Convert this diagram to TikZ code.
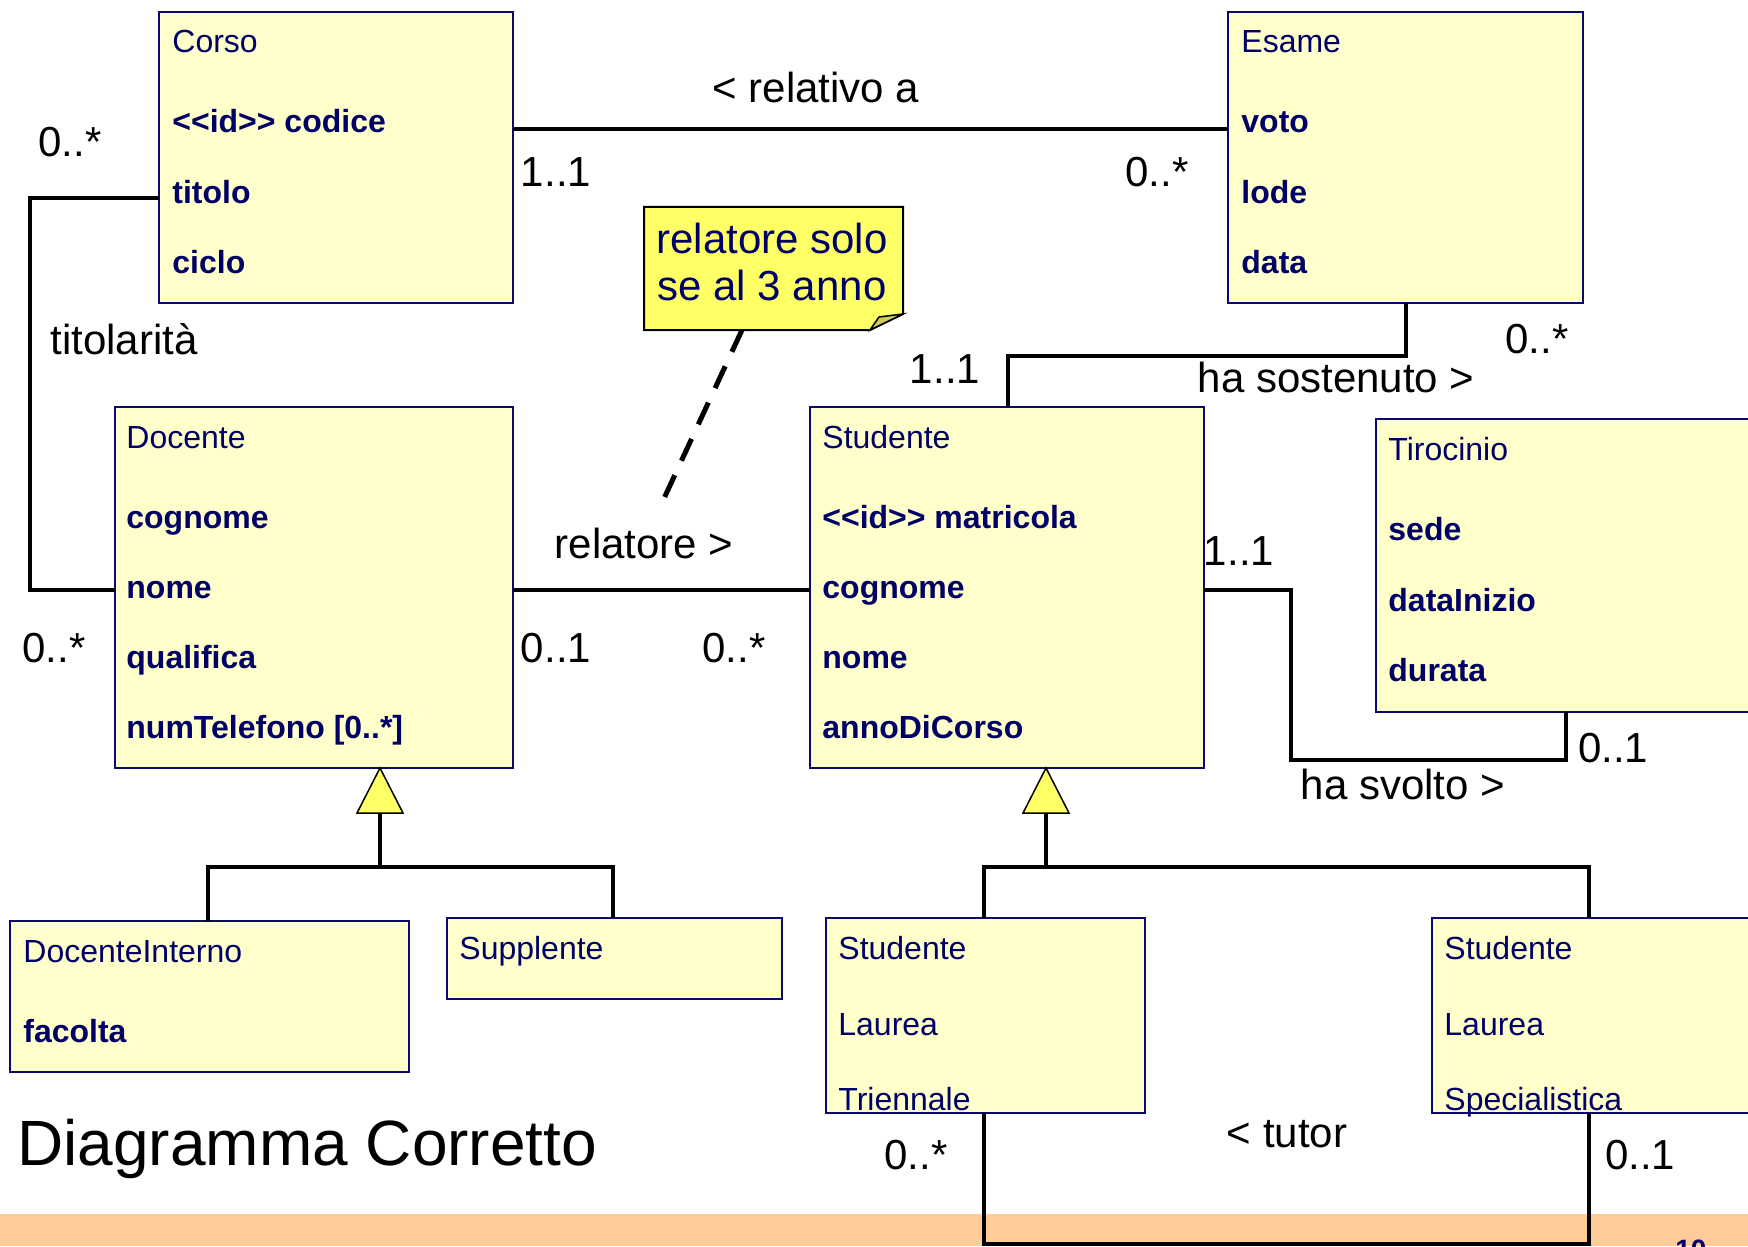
\documentclass[tikz,border=0pt]{standalone}
\usepackage{fontspec}
\setmainfont{Liberation Sans}
\usetikzlibrary{calc}
\definecolor{clsfill}{HTML}{FFFFCC}
\definecolor{clsline}{RGB}{10,10,110}
\definecolor{ink}{RGB}{0,0,102}
\definecolor{notefill}{HTML}{FFFF66}
\definecolor{foldfill}{RGB}{204,204,102}
\definecolor{band}{HTML}{FFCC99}
\begin{document}
\begin{tikzpicture}[x=0.5pt,y=-0.5pt,
  cls/.style={draw=clsline, fill=clsfill, line width=1.25pt, inner sep=0pt, outer sep=0pt, anchor=north west},
  conn/.style={line width=2.3pt, black},
  mult/.style={font=\fontsize{21}{25}\selectfont, anchor=base, inner sep=0pt},
  attr/.style={font=\bfseries\fontsize{16}{19}\selectfont, text=ink, anchor=base west, inner sep=0pt},
  cname/.style={font=\fontsize{16}{19}\selectfont, text=ink, anchor=base west, inner sep=0pt},
  gentri/.style={fill=notefill, draw=black, line width=0.75pt, line join=miter},
  notetxt/.style={font=\fontsize{21}{25}\selectfont, text=ink, anchor=base, inner sep=0pt}]
\useasboundingbox (0,0) rectangle (1748,1246);
\clip (0,0) rectangle (1748,1246);

% footer band
\fill[band] (0,1214) rectangle (1748,1246);
\node[font=\bfseries\fontsize{14}{16}\selectfont, text=ink, anchor=base west, inner sep=0pt] (pagenum) at (1675,1259) {10};

% ---------- classes ----------
\node[cls, minimum width=177pt, minimum height=145.5pt] (corso) at (159,12) {};
\node[cname] (corsoN) at (172,53) {Corso};
\node[attr] (corsoA1) at (172,133) {<{}<id>{}> codice};
\node[attr] (corsoA2) at (172,204) {titolo};
\node[attr] (corsoA3) at (172,273) {ciclo};

\node[cls, minimum width=177.5pt, minimum height=145.5pt] (esame) at (1228,12) {};
\node[cname] (esameN) at (1241,53) {Esame};
\node[attr] (esameA1) at (1241,133) {voto};
\node[attr] (esameA2) at (1241,204) {lode};
\node[attr] (esameA3) at (1241,273) {data};

\node[cls, minimum width=199pt, minimum height=180.5pt] (docente) at (115,407) {};
\node[cname] (docenteN) at (126,448) {Docente};
\node[attr] (docenteA1) at (126,528) {cognome};
\node[attr] (docenteA2) at (126,598) {nome};
\node[attr] (docenteA3) at (126,668) {qualifica};
\node[attr] (docenteA4) at (126,738) {numTelefono [0..*]};

\node[cls, minimum width=197pt, minimum height=180.5pt] (studente) at (810,407) {};
\node[cname] (studenteN) at (822,448) {Studente};
\node[attr] (studenteA1) at (822,528) {<{}<id>{}> matricola};
\node[attr] (studenteA2) at (822,598) {cognome};
\node[attr] (studenteA3) at (822,668) {nome};
\node[attr] (studenteA4) at (822,738) {annoDiCorso};

\node[cls, minimum width=200pt, minimum height=146.5pt] (tirocinio) at (1376,419) {};
\node[cname] (tirocinioN) at (1388,460) {Tirocinio};
\node[attr] (tirocinioA1) at (1388,540) {sede};
\node[attr] (tirocinioA2) at (1388,611) {dataInizio};
\node[attr] (tirocinioA3) at (1388,681) {durata};

\node[cls, minimum width=199.5pt, minimum height=75.5pt] (docint) at (10,921) {};
\node[cname] (docintN) at (23,962) {DocenteInterno};
\node[attr] (docintA1) at (23,1042) {facolta};

\node[cls, minimum width=167.5pt, minimum height=40.5pt] (supplente) at (447,918) {};
\node[cname] (supplenteN) at (459,959) {Supplente};

\node[cls, minimum width=159.5pt, minimum height=97.5pt] (slt) at (826,918) {};
\node[cname] (sltN1) at (838,959) {Studente};
\node[cname] (sltN2) at (838,1035) {Laurea};
\node[cname] (sltN3) at (838,1110) {Triennale};

\node[cls, minimum width=170pt, minimum height=97.5pt] (sls) at (1432,918) {};
\node[cname] (slsN1) at (1444,959) {Studente};
\node[cname] (slsN2) at (1444,1035) {Laurea};
\node[cname] (slsN3) at (1444,1110) {Specialistica};

% ---------- note ----------
\node[inner sep=0pt, outer sep=0pt, minimum width=129.5pt, minimum height=61.5pt, anchor=north west] (note) at (644,207) {};
\draw[fill=notefill, draw=black, line width=1pt, line join=miter]
  (note.north west) -- (note.north east) -- ($(note.south east)+(0,-16)$)
  -- ($(note.south east)+(-33,0)$) -- (note.south west) -- cycle;
\draw[fill=foldfill, draw=black, line width=0.75pt]
  ($(note.south east)+(-33,0)$) -- ($(note.south east)+(0,-16)$)
  -- ($(note.south east)+(-24,-13)$) -- cycle;
\node[notetxt] (noteL1) at (772,253) {relatore solo};
\node[notetxt] (noteL2) at (772,300) {se al 3 anno};
\coordinate (noteEnd) at (660,507);
\draw[line width=2.5pt, dash pattern=on 12pt off 8pt] (note.south -| 742,0) -- (noteEnd);

% ---------- associations ----------
\draw[conn] (corso.east |- 0,129) -- (esame.west |- 0,129);
\node[mult] (relL) at (816,103) {< relativo a};
\node[mult] (relM1) at (556,187) {1..1};
\node[mult] (relM2) at (1157,187) {0..*};

\draw[conn] (corso.west |- 0,198) -- (30,198) -- (30,590) -- (docente.west |- 0,590);
\node[mult] (titL) at (124,354) {titolarità};
\node[mult] (titM1) at (70,157) {0..*};
\node[mult] (titM2) at (54,662) {0..*};

\draw[conn] (esame.south -| 1406,0) -- (1406,356) -- (1008,356) -- (studente.north -| 1008,0);
\node[mult] (sosL) at (1336,392) {ha sostenuto >};
\node[mult] (sosM1) at (945,383) {1..1};
\node[mult] (sosM2) at (1537,353) {0..*};

\draw[conn] (docente.east |- 0,590) -- (studente.west |- 0,590);
\node[mult] (ratL) at (644,558) {relatore >};
\node[mult] (ratM1) at (556,662) {0..1};
\node[mult] (ratM2) at (734,662) {0..*};

\draw[conn] (studente.east |- 0,590) -- (1291,590) -- (1291,760) -- (1566,760) -- (tirocinio.south -| 1566,0);
\node[mult] (svoL) at (1403,799) {ha svolto >};
\node[mult] (svoM1) at (1239,565) {1..1};
\node[mult] (svoM2) at (1613,762) {0..1};

\draw[conn] (slt.south -| 984,0) -- (984,1244) -- (1589,1244) -- (sls.south -| 1589,0);
\node[mult] (tutL) at (1287,1147) {< tutor};
\node[mult] (tutM1) at (916,1169) {0..*};
\node[mult] (tutM2) at (1640,1169) {0..1};

% ---------- generalizations ----------
\coordinate (g1) at (380,867);
\draw[conn] (380,813) -- (g1);
\draw[conn] (docint.north -| 208,0) -- (208,867) -- (613,867) -- (supplente.north -| 613,0);
\draw[gentri] (docente.south -| 380,0) -- (357,813) -- (403,813) -- cycle;

\coordinate (g2) at (1046,867);
\draw[conn] (1046,813) -- (g2);
\draw[conn] (slt.north -| 984,0) -- (984,867) -- (1589,867) -- (sls.north -| 1589,0);
\draw[gentri] (studente.south -| 1046,0) -- (1023,813) -- (1069,813) -- cycle;

% ---------- caption ----------
\node[font=\fontsize{32}{38}\selectfont, anchor=base west, inner sep=0pt] (title) at (17,1165) {Diagramma Corretto};
\end{tikzpicture}
\end{document}
